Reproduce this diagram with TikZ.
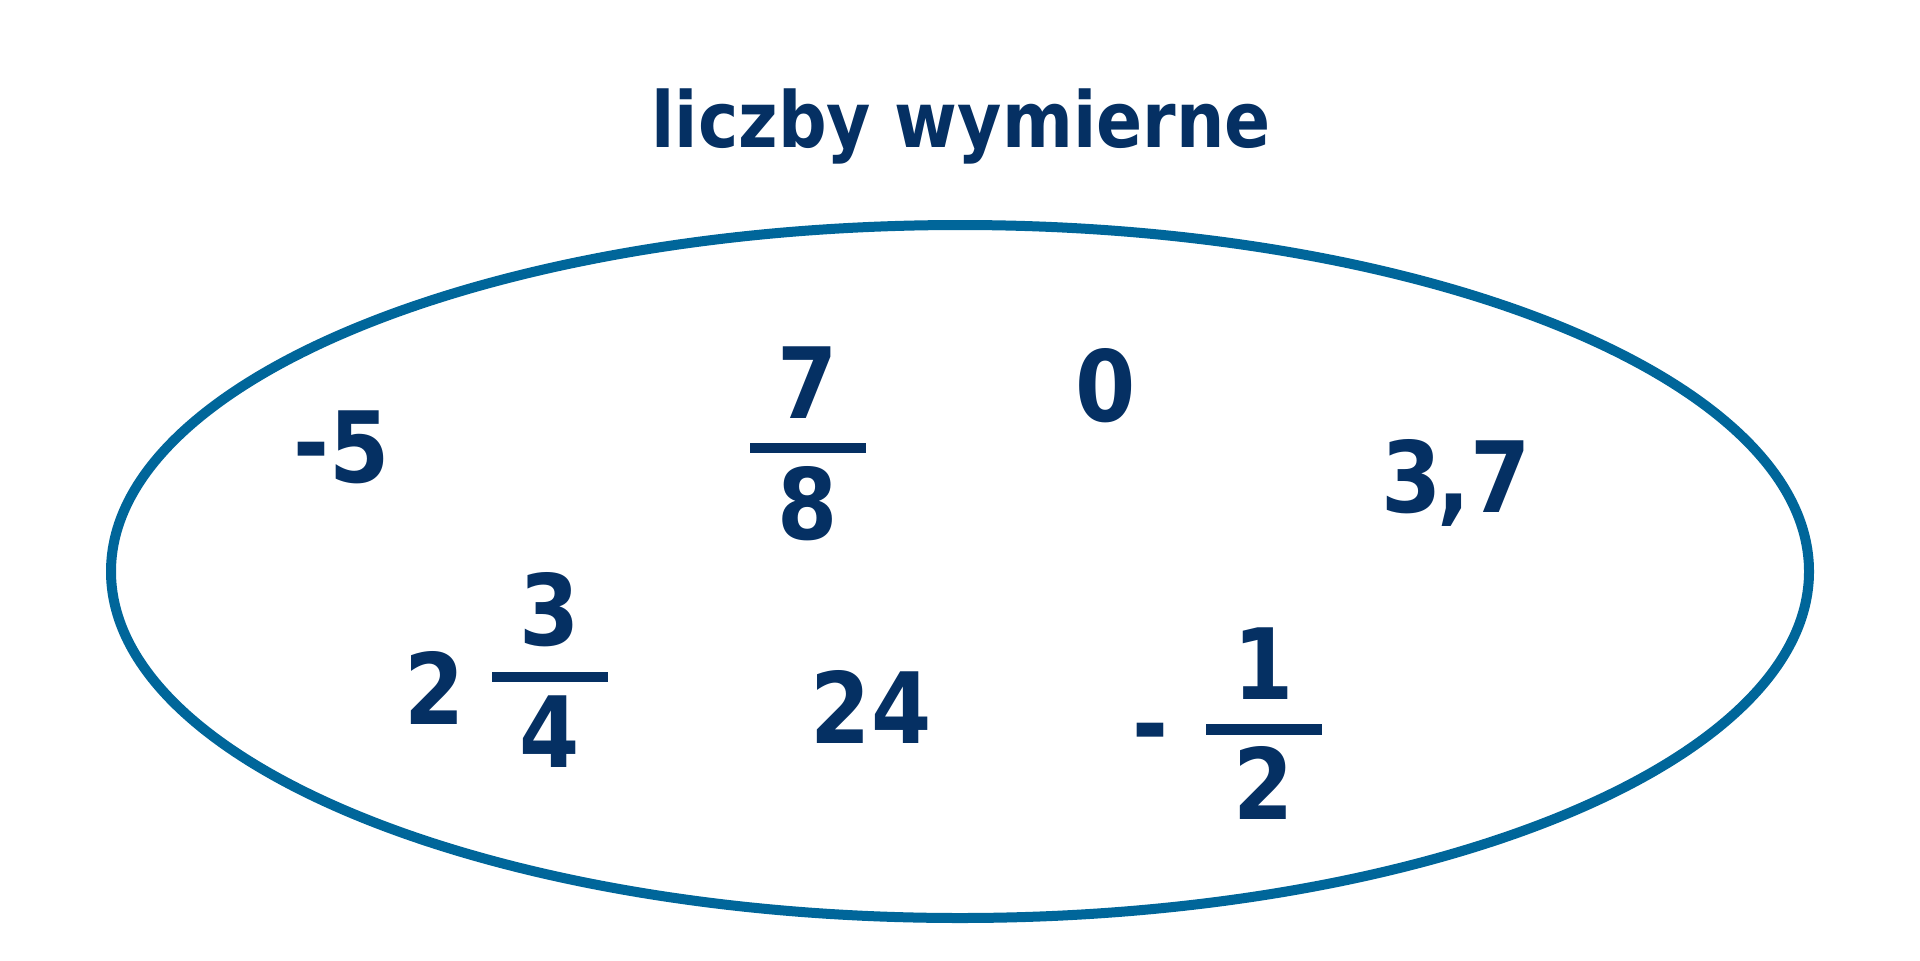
\documentclass[tikz,border=0pt]{standalone}
\usepackage{fontspec}
\setmainfont{DejaVu Sans}[FakeStretch=0.88]
\usepackage{xcolor}
\usepackage{tikz}
\usetikzlibrary{positioning}

\definecolor{ink}{HTML}{053063}
\definecolor{ring}{HTML}{00669A}

\tikzset{
	num/.style={text=ink, font=\fontsize{28}{30}\selectfont\bfseries, inner sep=0pt},
	bar/.style={fill=ink, minimum width=1.16cm, minimum height=0.105cm, inner sep=0pt}
}

\begin{document}
\begin{tikzpicture}
					\useasboundingbox (0,0) rectangle (19.2,9.6);
					% Title
					\node[text=ink,
					font=\fontsize{22}{24}\selectfont\bfseries,
					inner sep=0pt,
					anchor=base] (title) at (9.61,8.13) {liczby wymierne};
					% Set
					\draw[ring, line width=0.1cm] (9.60,3.885) ellipse [x radius=8.49, y radius=3.465];
					% Integers and decimals
					\node[num, anchor=base] (minusfive) at (3.42,4.78) {\raisebox{0.05cm}{-}5};
					\node[num, anchor=base] (zero) at (11.06,5.39) {0};
					\node[num, anchor=base] (threeseven) at (14.56,4.48) {3\kern-0.05em,7};
					\node[num, anchor=base] (twentyfour) at (8.71,2.17) {24};
					% Fraction 7/8
					\node[bar] (bar78) at (8.075,5.12) {};
					\node[num, above=0.23cm of bar78] (seven) {7};
					\node[num, below=0.12cm of bar78] (eight) {8};
					% Mixed number 2 3/4
					\node[num, anchor=base] (whole) at (4.35,2.36) {2};
					\node[bar] (bar34) at (5.495,2.83) {};
					\node[num, above=0.23cm of bar34] (three) {3};
					\node[num, below=0.12cm of bar34] (four) {4};
					% Fraction -1/2
					\node[num, anchor=base] (minus) at (11.50,2.02) {-};
					\node[bar] (bar12) at (12.64,2.305) {};
					\node[num, above=0.23cm of bar12] (one) {1};
					\node[num, below=0.10cm of bar12] (two) {2};
					\end{tikzpicture}
\end{document}
